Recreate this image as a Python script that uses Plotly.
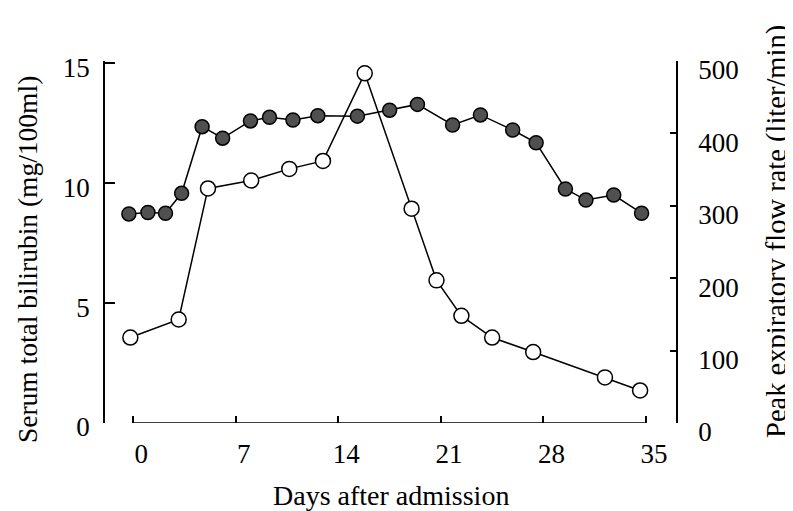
import plotly.graph_objects as go

# Serum total bilirubin (filled circles, left axis)
bili_days = [-0.3, 1.0, 2.2, 3.3, 4.7, 6.1, 8.0, 9.3, 10.9, 12.6, 15.3,
             17.5, 19.4, 21.8, 23.7, 25.9, 27.5, 29.5, 30.9, 32.8, 34.7]
bili_vals = [8.72, 8.78, 8.75, 9.58, 12.36, 11.88, 12.6, 12.75, 12.64, 12.82, 12.8,
             13.05, 13.29, 12.43, 12.85, 12.22, 11.69, 9.76, 9.3, 9.51, 8.75]

# Peak expiratory flow rate (open circles, right axis)
pefr_days = [-0.2, 3.1, 5.1, 8.05, 10.65, 12.95, 15.8, 19.0, 20.7, 22.4, 24.5, 27.3, 32.2, 34.6]
pefr_vals = [118, 143, 324, 335, 351, 362, 483, 296, 197, 148, 118, 98, 63, 45]

x_ticks = [0, 7, 14, 21, 28, 35]
left_ticks = [0, 5, 10, 15]
right_ticks = [0, 100, 200, 300, 400, 500]

FONT = "Liberation Serif"

fig = go.Figure()
fig.add_trace(go.Scatter(
    x=bili_days, y=bili_vals, mode="lines+markers", yaxis="y",
    line=dict(color="black", width=1.5),
    marker=dict(size=14, color="#505050", line=dict(color="black", width=1.5)),
    showlegend=False))
fig.add_trace(go.Scatter(
    x=pefr_days, y=pefr_vals, mode="lines+markers", yaxis="y2",
    line=dict(color="black", width=1.5),
    marker=dict(size=15, color="white", line=dict(color="black", width=1.5)),
    showlegend=False))

# x axis line only spans the labelled days
fig.add_shape(type="line", xref="x", yref="y", x0=x_ticks[0], x1=x_ticks[-1], y0=0, y1=0,
              line=dict(color="black", width=1.5))

# page body has an 8px margin, so the figure is 8px smaller than the window
fig.update_layout(
    width=785, height=503,
    margin=dict(l=97, r=117, t=53, b=88),
    paper_bgcolor="white", plot_bgcolor="white",
    font=dict(family=FONT, size=27, color="black"),
    xaxis=dict(range=[-1.93, 37.05], tickvals=x_ticks, ticks="inside", ticklen=7,
               tickwidth=1.5, tickcolor="black", showline=False, showgrid=False,
               zeroline=False, ticklabelshift=8, ticklabelstandoff=12),
    yaxis=dict(range=[0, 15.1], tickvals=left_ticks, ticks="inside", ticklen=10,
               tickwidth=1.5, tickcolor="black", showline=True, linecolor="black",
               linewidth=1.5, showgrid=False, zeroline=False, ticklabelshift=4,
               ticklabelstandoff=8),
    yaxis2=dict(range=[0, 500], tickvals=right_ticks, ticks="inside", ticklen=6,
                tickwidth=1.5, tickcolor="black", showline=True, linecolor="black",
                linewidth=1.5, showgrid=False, zeroline=False, overlaying="y",
                side="right", ticklabelshift=9, ticklabelstandoff=15),
    annotations=[
        dict(text="Days after admission", xref="paper", yref="paper", x=0.5, y=-0.200,
             xanchor="center", yanchor="middle", showarrow=False,
             font=dict(family=FONT, size=28)),
        dict(text="Serum total bilirubin (mg/100ml)", xref="paper", yref="paper",
             x=-0.1366, y=0.450, xanchor="center", yanchor="middle", textangle=-90,
             showarrow=False, font=dict(family=FONT, size=27.5)),
        dict(text="Peak expiratory flow rate (liter/min)", xref="paper", yref="paper",
             x=1.177, y=0.528, xanchor="center", yanchor="middle", textangle=-90,
             showarrow=False, font=dict(family=FONT, size=28.5)),
    ],
)

fig.write_html("out.html")
